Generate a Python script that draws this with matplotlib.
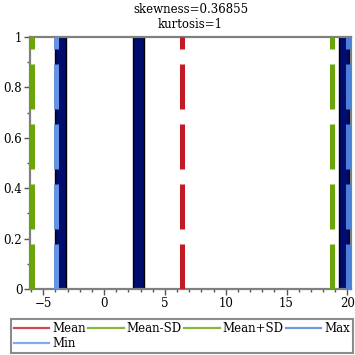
import numpy as np
import matplotlib
matplotlib.use('Agg')
import matplotlib.pyplot as plt
from matplotlib.lines import Line2D
from matplotlib.ticker import MultipleLocator, FuncFormatter

plt.rcParams['font.family'] = 'DejaVu Serif'
plt.rcParams['font.size'] = 8.5

# histogram bars (centres, heights)
bar_x = [-3.59, 2.84, 19.72]
bar_h = [1, 1, 1]
bar_w = 0.88

# summary lines
stat_names = ['Mean', 'Mean-SD', 'Mean+SD', 'Max', 'Min']
stat_vals = [6.42, -5.9, 18.77, 20.07, -3.94]
stat_cols = ['#c41a26', '#6aa50a', '#6aa50a', '#4c7fd6', '#6494e2']

skewness = 0.36855
kurtosis = 1

fig = plt.figure(figsize=(3.55, 3.55), dpi=100)
ax = fig.add_axes([30/355, 1 - 289/355, 321/355, 252/355])

ax.bar(bar_x, bar_h, width=bar_w, color='#000c6e', edgecolor='black', lw=1.0, zorder=2)

# draw Min first so Max sits on top of the last bar
for i in [1, 2, 0, 4, 3]:
    ax.plot([stat_vals[i], stat_vals[i]], [0, 1], color=stat_cols[i], lw=3.6,
            dashes=(9, 3), solid_capstyle='butt', dash_capstyle='butt', zorder=3)

ax.set_xlim(-6.09, 20.3)
ax.set_ylim(0, 1)
ax.xaxis.set_major_locator(MultipleLocator(5))
ax.xaxis.set_minor_locator(MultipleLocator(1))
ax.yaxis.set_major_locator(MultipleLocator(0.2))
ax.yaxis.set_minor_locator(MultipleLocator(0.1))
ax.yaxis.set_major_formatter(FuncFormatter(lambda v, p: '%g' % round(v, 2)))
ax.tick_params(which='both', direction='out', color='#555555', top=False, right=False)
ax.tick_params(which='major', length=4, width=1, pad=1.5)
ax.tick_params(which='minor', length=2, width=1)
for s in ax.spines.values():
    s.set_color('#808080')
    s.set_linewidth(1.6)

ax.set_title('skewness=%g\nkurtosis=%g' % (skewness, kurtosis), fontsize=8.5,
             linespacing=1.15, pad=6.5)

# legend filled row by row: Mean, Mean-SD, Mean+SD, Max / Min
order = [0, 4, 1, 2, 3]
handles = [Line2D([], [], color=stat_cols[i], lw=1.6, alpha=0.8) for i in order]
labels = [stat_names[i] for i in order]
leg = fig.legend(handles, labels, loc='upper left',
                 bbox_to_anchor=(11/355, 1 - 319/355),
                 ncol=4, frameon=True, fancybox=False, borderpad=0.25,
                 handlelength=3.0, handletextpad=0.25, columnspacing=0.2,
                 labelspacing=0.15, borderaxespad=0, fontsize=8.5)
leg.get_frame().set_edgecolor('#707070')
leg.get_frame().set_linewidth(1.5)

fig.savefig('out.png', dpi=100)
